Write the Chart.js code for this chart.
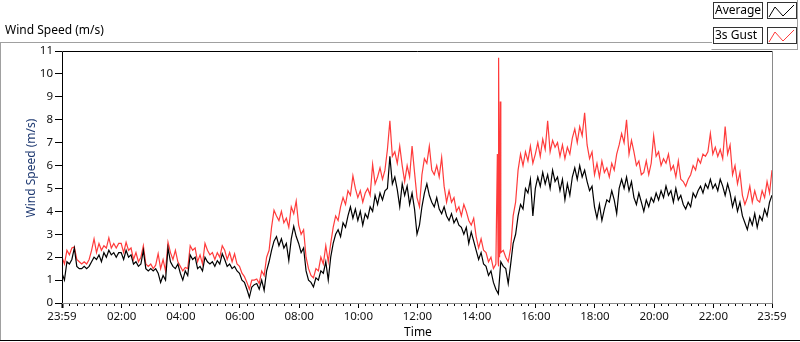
<!DOCTYPE html>
<html>
<head>
<meta charset="utf-8">
<script src="https://cdn.jsdelivr.net/npm/chart.js@4.4.0/dist/chart.umd.min.js"></script>
<style>
  html, body { margin: 0; padding: 0; background: #fff; }
  #wrap { width: 800px; height: 342px; position: relative; }
</style>
</head>
<body>
<div id="wrap"><canvas id="wind-chart"></canvas></div>
<script>
// one reading every 5 minutes, starting 23:59
const stepMinutes = 5;

const avgWind = [
  1.3, 1.0, 1.8, 1.7, 1.9, 2.4, 1.6, 1.5, 1.5, 1.6, 1.5, 1.6,
  1.8, 2.0, 1.9, 2.1, 1.8, 2.2, 2.0, 2.3, 2.1, 2.2, 2.0, 2.2,
  2.2, 1.9, 2.3, 2.0, 2.1, 1.7, 1.8, 1.6, 1.7, 2.3, 1.5, 1.4,
  1.5, 1.4, 1.5, 1.3, 0.9, 1.2, 1.0, 2.4, 1.8, 1.6, 1.5, 1.7,
  1.3, 1.0, 1.4, 1.2, 2.1, 1.9, 2.0, 1.5, 1.6, 1.4, 2.0, 1.8,
  1.7, 1.8, 1.6, 1.85, 1.7, 2.15, 1.9, 1.6, 1.7, 1.5, 1.6, 1.4,
  1.3, 1.0, 0.9, 0.6, 0.25, 0.7, 0.8, 0.85, 0.6, 1.0, 0.55, 1.4,
  1.8, 2.3, 2.7, 2.9, 2.5, 2.8, 2.4, 2.6, 1.85, 2.8, 3.35, 2.9,
  2.6, 2.2, 2.4, 1.4, 1.0, 0.9, 0.7, 1.1, 1.0, 1.4, 1.3, 1.8,
  1.0, 2.0, 2.6, 3.0, 3.2, 2.9, 3.5, 3.3, 3.8, 4.2, 3.7, 4.1,
  3.6, 4.0, 3.4, 3.9, 3.7, 4.2, 4.0, 4.7, 4.3, 4.8, 4.5, 4.9,
  5.0, 6.4, 5.2, 5.5, 4.95, 4.2, 5.2, 4.7, 5.1, 4.3, 4.8, 4.1,
  3.0, 3.4, 4.2, 4.8, 5.2, 4.7, 4.4, 4.2, 4.6, 4.1, 3.9, 4.2,
  3.8, 3.6, 3.9, 3.5, 3.7, 3.4, 3.3, 3.0, 3.3, 2.6, 3.1, 2.7,
  2.3, 1.9, 2.2, 1.7, 1.6, 1.2, 1.4, 0.9, 0.6, 0.4, 1.8, 1.6,
  1.5, 0.85, 1.7, 2.6, 3.0, 3.8, 4.3, 4.1, 5.0, 4.8, 5.4, 3.8,
  5.0, 5.5, 5.1, 5.7, 5.2, 5.6, 5.0, 5.8, 5.3, 5.5, 4.9, 5.4,
  4.5, 5.2, 4.7, 5.5, 5.9, 5.4, 6.0, 5.5, 5.8, 5.3, 4.9, 5.1,
  4.2, 3.7, 4.3, 3.6, 4.1, 4.5, 4.4, 4.9, 4.5, 3.9, 5.0, 5.4,
  5.0, 5.5, 4.9, 5.3, 4.6, 4.3, 4.8, 4.4, 4.0, 4.5, 4.2, 4.6,
  4.4, 4.8, 4.5, 4.9, 4.6, 5.1, 4.7, 4.9, 4.4, 5.0, 4.5, 4.7,
  4.3, 4.1, 4.4, 4.2, 4.8, 4.6, 4.9, 5.1, 4.8, 5.2, 5.0, 5.4,
  5.0, 5.2, 4.9, 5.4, 5.1, 4.7, 5.2, 4.8, 4.2, 4.6, 4.0, 4.4,
  3.8, 3.5, 3.2, 3.7, 3.4, 3.9, 3.3, 3.8, 3.6, 4.1, 3.8, 4.4,
  4.7
];

const gustWind = [
  2.0, 1.7, 2.3, 2.1, 2.4, 2.45, 1.9, 1.8, 1.7, 1.8, 1.7, 1.9,
  2.3, 2.8, 2.2, 2.6, 2.3, 2.5, 2.4, 2.85, 2.4, 2.6, 2.4, 2.6,
  2.6, 2.2, 2.65, 2.3, 2.4, 1.9, 2.2, 1.8, 2.0, 2.5, 1.7, 1.6,
  1.7, 1.5, 1.65, 2.15, 1.5, 1.9, 1.4, 2.65, 2.2, 1.9, 2.3, 1.8,
  1.6, 1.4, 1.55, 1.5, 2.5, 2.3, 2.4, 1.8, 2.1, 1.7, 2.6, 2.3,
  2.1, 2.2, 1.9, 2.2, 2.0, 2.5, 2.3, 1.9, 2.2, 1.8, 2.15, 1.7,
  1.6, 1.3, 1.15, 0.9, 0.6, 1.0, 1.0, 1.05, 0.85, 1.4, 1.2, 2.0,
  2.3, 3.3, 4.05, 3.8, 3.6, 4.0, 3.5, 3.7, 3.3, 4.2, 3.9, 4.45,
  3.4, 3.0, 3.2, 2.0, 1.5, 1.2, 1.1, 1.5, 1.4, 2.0, 1.7, 2.5,
  1.8, 2.6, 3.3, 3.8, 3.6, 4.2, 4.6, 4.3, 4.9, 4.7, 5.55, 5.0,
  4.6, 4.9, 4.4, 4.8, 5.0, 4.7, 6.05, 5.2, 5.5, 5.9, 5.4, 5.8,
  6.7, 7.95, 6.4, 6.6, 6.1, 6.85, 6.0, 5.3, 6.0, 5.5, 6.85, 5.7,
  4.6, 4.2, 5.6, 6.3, 6.1, 6.85, 5.8, 5.6, 6.0, 5.5, 6.35, 5.1,
  4.4, 4.9, 4.4, 4.6, 4.0, 4.2, 3.8, 4.3, 4.0, 3.6, 3.4, 3.7,
  2.9, 2.4, 2.8, 2.3, 2.2, 1.8, 2.0, 1.5, 1.7, 1.6, 2.2, 2.3,
  2.0, 1.8, 2.4, 3.8, 4.4, 5.8, 6.5, 6.0, 6.6, 6.2, 6.85, 6.1,
  6.5, 7.0, 6.4, 7.15, 6.7, 7.95, 6.6, 7.1, 6.8, 7.0, 6.4, 6.9,
  6.3, 6.8, 6.5, 7.2, 7.6, 7.0, 7.7, 7.3, 8.3, 6.9, 6.3, 6.6,
  5.6, 6.1, 5.5, 6.2, 5.7, 5.9, 5.5, 6.1, 5.8, 6.5, 6.9, 7.4,
  7.0, 8.0, 6.5, 7.1, 6.6, 6.0, 6.2, 5.6, 5.7, 6.2, 5.6, 6.1,
  7.3, 6.4, 6.6, 6.0, 6.3, 6.1, 6.5, 5.8, 6.0, 5.5, 6.2, 5.4,
  5.3, 5.1, 5.4, 5.6, 6.0, 5.8, 6.3, 6.1, 6.5, 6.4, 6.6, 7.4,
  6.5, 6.8, 6.4, 6.7, 6.3, 7.7, 6.5, 6.9, 5.6, 6.0, 5.2, 5.7,
  4.7, 4.3, 4.6, 5.1, 4.4, 4.9, 4.5, 4.4, 4.9, 4.6, 5.3, 4.8,
  5.8
];

// the short gust spike just before 15:00, read at finer spacing
const spikeMinutes = [883, 884.5, 886, 887.5, 889];
const spikeGust = [6.5, 1.8, 10.7, 2.0, 8.8];

const tickMinutes = [0, 121, 241, 361, 481, 601, 721, 841, 961, 1081, 1201, 1321, 1440];
const tickLabels = ["23:59", "02:00", "04:00", "06:00", "08:00", "10:00", "12:00",
  "14:00", "16:00", "18:00", "20:00", "22:00", "23:59"];
const yTicks = [0, 1, 2, 3, 4, 5, 6, 7, 8, 9, 10, 11];

const avgPoints = avgWind.map((v, i) => ({ x: i * stepMinutes, y: v }));
const gustPoints = gustWind
  .map((v, i) => ({ x: i * stepMinutes, y: v }))
  .concat(spikeMinutes.map((m, i) => ({ x: m, y: spikeGust[i] })))
  .sort((a, b) => a.x - b.x);

const minorMinutes = [];
for (let m = 16; m < 1440; m += 15) {
  if (!tickMinutes.includes(m)) minorMinutes.push(m);
}

const tickFont = { family: "Noto Sans", size: 11.5 };

const framePlugin = {
  id: "frame",
  afterDraw(chart) {
    const ctx = chart.ctx;
    const a = chart.chartArea;
    ctx.save();
    ctx.lineWidth = 1;

    // panel outline
    ctx.strokeStyle = "#a0a0a0";
    ctx.beginPath();
    ctx.moveTo(0, 42.5); ctx.lineTo(712, 42.5);
    ctx.moveTo(0.5, 42); ctx.lineTo(0.5, 341);
    ctx.moveTo(711.5, 49.5); ctx.lineTo(797.5, 49.5);
    ctx.moveTo(797.5, 0); ctx.lineTo(797.5, 50);
    ctx.stroke();
    ctx.strokeStyle = "#000";
    ctx.beginPath();
    ctx.moveTo(0, 340.5); ctx.lineTo(800, 340.5);
    ctx.stroke();

    // plot frame
    ctx.strokeStyle = "#000";
    ctx.beginPath();
    ctx.moveTo(a.left + 0.5, a.bottom); ctx.lineTo(a.left + 0.5, a.top + 0.5);
    ctx.lineTo(a.right, a.top + 0.5);
    ctx.stroke();
    ctx.strokeStyle = "#8a8a8a";
    ctx.beginPath();
    ctx.moveTo(a.right + 0.5, a.top); ctx.lineTo(a.right + 0.5, a.bottom + 0.5);
    ctx.lineTo(a.left, a.bottom + 0.5);
    ctx.stroke();

    // legend
    const rows = [
      { label: "Average", color: "#000", y: 2 },
      { label: "3s Gust", color: "#ff3b3b", y: 27 }
    ];
    ctx.font = "12px 'Noto Sans'";
    ctx.textBaseline = "middle";
    rows.forEach((r) => {
      ctx.fillStyle = "#fff";
      ctx.fillRect(713, r.y, 49, 16);
      ctx.strokeStyle = "#333";
      ctx.strokeRect(713.5, r.y + 0.5, 49, 16);
      ctx.strokeRect(767.5, r.y + 0.5, 29, 16);
      ctx.fillStyle = "#000";
      ctx.textAlign = "left";
      ctx.fillText(r.label, 715, r.y + 8.5);
      ctx.strokeStyle = r.color;
      ctx.beginPath();
      ctx.moveTo(769, r.y + 15);
      ctx.lineTo(775, r.y + 5);
      ctx.lineTo(783, r.y + 14);
      ctx.lineTo(794, r.y + 3);
      ctx.stroke();
    });

    // titles
    ctx.fillStyle = "#000";
    ctx.textAlign = "left";
    ctx.fillText("Wind Speed (m/s)", 5, 31);
    ctx.textAlign = "center";
    ctx.fillText("Time", 418, 333);
    ctx.save();
    ctx.translate(32, 168);
    ctx.rotate(-Math.PI / 2);
    ctx.fillStyle = "#1f3a72";
    ctx.fillText("Wind Speed (m/s)", 0, 0);
    ctx.restore();

    ctx.restore();
  }
};

new Chart(document.getElementById("wind-chart"), {
  type: "line",
  data: {
    datasets: [
      {
        label: "Average",
        data: avgPoints,
        borderColor: "#000",
        borderWidth: 1.2,
        pointRadius: 0,
        tension: 0
      },
      {
        label: "3s Gust",
        data: gustPoints,
        borderColor: "#ff3b3b",
        borderWidth: 1.2,
        pointRadius: 0,
        tension: 0
      }
    ]
  },
  options: {
    responsive: true,
    maintainAspectRatio: false,
    animation: false,
    devicePixelRatio: 1,
    layout: { padding: { left: 0, top: 51, right: 28, bottom: 0 } },
    plugins: {
      legend: { display: false },
      tooltip: { enabled: false },
      title: { display: false }
    },
    scales: {
      xMinor: {
        type: "linear",
        position: "bottom",
        weight: -1,
        min: 0,
        max: 1440,
        afterFit: (s) => { s.height = 0; },
        afterBuildTicks: (s) => { s.ticks = minorMinutes.map((v) => ({ value: v })); },
        ticks: { display: false },
        border: { display: false },
        grid: { drawOnChartArea: false, drawTicks: true, tickLength: 3, tickColor: "#000" }
      },
      x: {
        type: "linear",
        position: "bottom",
        min: 0,
        max: 1440,
        afterFit: (s) => { s.height = 39; },
        afterBuildTicks: (s) => { s.ticks = tickMinutes.map((v) => ({ value: v })); },
        ticks: {
          autoSkip: false,
          maxRotation: 0,
          padding: 2,
          color: "#111",
          font: tickFont,
          callback: (v, i) => tickLabels[i]
        },
        border: { display: false },
        grid: {
          drawOnChartArea: false,
          drawTicks: true,
          tickLength: 5,
          tickColor: "#000",
          tickWidth: (c) => (c.index === 0 ? 2 : 1)
        }
      },
      y: {
        type: "linear",
        min: 0,
        max: 11,
        afterFit: (s) => { s.width = 62; },
        afterBuildTicks: (s) => { s.ticks = yTicks.map((v) => ({ value: v })); },
        ticks: { padding: 2, color: "#111", font: tickFont },
        border: { display: false },
        grid: { drawOnChartArea: false, drawTicks: true, tickLength: 7, tickColor: "#000" }
      }
    }
  },
  plugins: [framePlugin]
});
</script>
</body>
</html>
